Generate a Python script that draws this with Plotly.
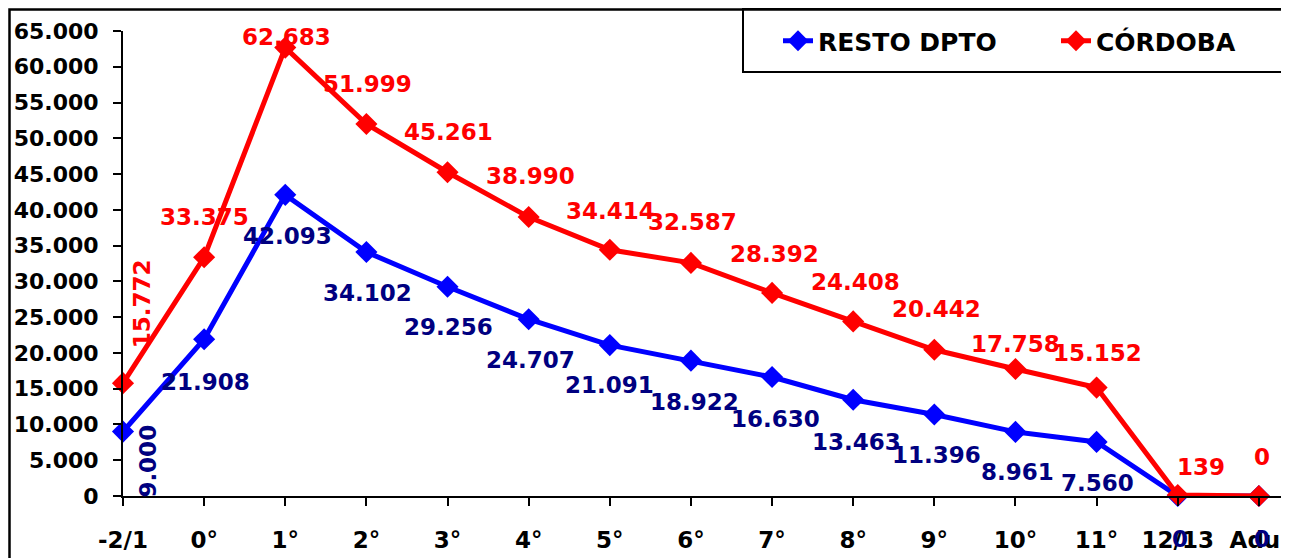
import plotly.graph_objects as go

# ---- data ----
categories = ["-2/1", "0°", "1°", "2°", "3°", "4°", "5°", "6°", "7°", "8°",
              "9°", "10°", "11°", "12/13", "Adul"]
resto_dpto = [9000, 21908, 42093, 34102, 29256, 24707, 21091, 18922, 16630,
              13463, 11396, 8961, 7560, 0, 0]
cordoba = [15772, 33375, 62683, 51999, 45261, 38990, 34414, 32587, 28392,
           24408, 20442, 17758, 15152, 139, 0]
series_names = ["RESTO DPTO", "CÓRDOBA"]

# ---- style ----
OFF = 8                      # page margin around the figure div
W, H = 1289, 558
ML, MR, MT, MB = 115, 0, 23, 70
PW = W - ML - MR
PH = H - MT - MB
FONT = "DejaVu Sans"
BLUE, RED, NAVY = "#0000FF", "#FF0000", "#000080"
X_END = 14.47

# label placement (pixel offsets from each point, style only)
red_dx = [19, 0, 1, 1, 1, 2, 1, 2, 2, 2, 2, 0, 1, 23, 3]
red_dy = [79, 40, 11, 40, 40, 41, 39, 41, 39, 39, 41, 25, 35, 28, 39]
red_rot = [-90] + [0] * 14
blue_dx = [25, 1, 2, 1, 1, 2, 0, 4, 3, 3, 2, 2, 1, 2, 3]
blue_dy = [-30, -43, -41, -41, -40, -41, -40, -41, -42, -42, -41, -40, -41, -43, -43]
blue_rot = [-90] + [0] * 14


def px_x(page_x):
    return (page_x - OFF - ML) / PW


def px_y(page_y):
    return (H - MB - (page_y - OFF)) / PH


def fmt(v):
    return f"{v:,}".replace(",", ".")


fig = go.Figure()
for name, vals, col in [(series_names[0], resto_dpto, BLUE),
                        (series_names[1], cordoba, RED)]:
    fig.add_trace(go.Scatter(
        x=categories, y=vals, name=name, mode="lines+markers",
        line=dict(color=col, width=5),
        marker=dict(symbol="diamond", size=17, color=col),
        cliponaxis=False,
    ))

annotations = []
for vals, dx, dy, rot, col in [(resto_dpto, blue_dx, blue_dy, blue_rot, NAVY),
                               (cordoba, red_dx, red_dy, red_rot, RED)]:
    for i, v in enumerate(vals):
        annotations.append(dict(
            x=categories[i], y=v, xref="x", yref="y", text=fmt(v),
            showarrow=False, xshift=dx[i], yshift=dy[i], textangle=rot[i],
            font=dict(family=FONT, size=23, color=col, weight=700),
        ))

shapes = [
    # legend box
    dict(type="rect", xref="paper", yref="paper",
         x0=px_x(743), x1=px_x(W + 4), y0=px_y(72), y1=px_y(OFF + 1),
         line=dict(color="black", width=2), fillcolor="white", layer="below"),
    # outer chart frame (right/bottom edges run off the page)
    dict(type="rect", xref="paper", yref="paper",
         x0=px_x(OFF + 1.5), x1=px_x(W + 30), y0=px_y(H + 30),
         y1=px_y(OFF + 1.5),
         line=dict(color="black", width=2.5), fillcolor="rgba(0,0,0,0)",
         layer="above"),
]

fig.update_layout(
    width=W, height=H,
    margin=dict(l=ML, r=MR, t=MT, b=MB, pad=0, autoexpand=False),
    paper_bgcolor="white", plot_bgcolor="white",
    separators=",.",
    font=dict(family=FONT, size=23, color="black", weight=700),
    showlegend=True,
    legend=dict(
        orientation="h", x=px_x(778), y=px_y(41), xanchor="left",
        yanchor="middle", bgcolor="rgba(0,0,0,0)", borderwidth=0,
        font=dict(family=FONT, size=25, color="black", weight=700),
        entrywidth=233, entrywidthmode="pixels", itemsizing="trace",
    ),
    annotations=annotations,
    shapes=shapes,
)
fig.update_xaxes(
    type="category", range=[0, X_END], showgrid=False, zeroline=False,
    automargin=False, tickangle=0,
    showline=True, linecolor="black", linewidth=2,
    ticks="outside", ticklen=8, tickwidth=2, tickcolor="black",
    ticklabelstandoff=14,
    tickfont=dict(family=FONT, size=23, color="black", weight=700),
)
fig.update_yaxes(
    range=[0, 65000], dtick=5000, tickformat=",", showgrid=False,
    automargin=False,
    zeroline=False, showline=True, linecolor="black", linewidth=2,
    ticks="outside", ticklen=8, tickwidth=2, tickcolor="black",
    ticklabelstandoff=10,
    tickfont=dict(family=FONT, size=22, color="black", weight=700),
)

fig.write_html("out.html")
